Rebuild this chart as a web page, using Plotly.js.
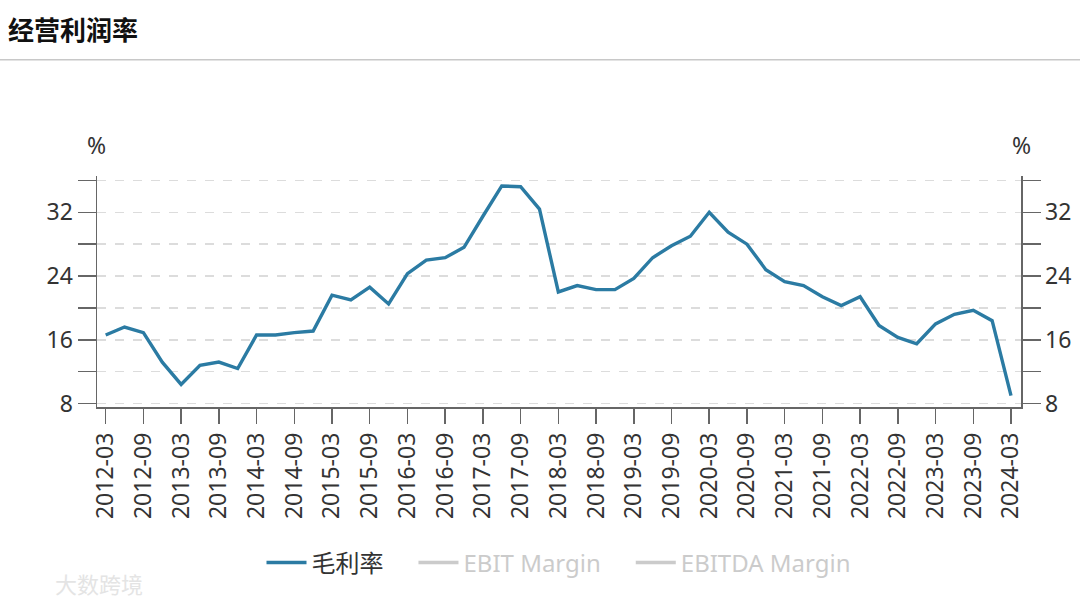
<!DOCTYPE html>
<html>
<head>
<meta charset="utf-8">
<script src="https://cdn.plot.ly/plotly-3.0.1.min.js"></script>
<style>html,body{margin:0;padding:0;background:#fff;}#chart{width:1080px;height:603px;}</style>
</head>
<body>
<div id="chart"></div>
<script>
// Quarter-end categories
const quarters = [
  "2012-03","2012-06","2012-09","2012-12",
  "2013-03","2013-06","2013-09","2013-12",
  "2014-03","2014-06","2014-09","2014-12",
  "2015-03","2015-06","2015-09","2015-12",
  "2016-03","2016-06","2016-09","2016-12",
  "2017-03","2017-06","2017-09","2017-12",
  "2018-03","2018-06","2018-09","2018-12",
  "2019-03","2019-06","2019-09","2019-12",
  "2020-03","2020-06","2020-09","2020-12",
  "2021-03","2021-06","2021-09","2021-12",
  "2022-03","2022-06","2022-09","2022-12",
  "2023-03","2023-06","2023-09","2023-12",
  "2024-03"
];
// 毛利率 (%)
const grossMargin = [
  16.6, 17.6, 16.9, 13.2,
  10.4, 12.8, 13.2, 12.4,
  16.6, 16.6, 16.9, 17.1,
  21.6, 21.0, 22.6, 20.5,
  24.3, 26.0, 26.3, 27.6,
  31.5, 35.3, 35.2, 32.4,
  22.0, 22.8, 22.3, 22.3,
  23.7, 26.3, 27.8, 29.0,
  32.0, 29.5, 28.0, 24.8,
  23.3, 22.8, 21.4, 20.3,
  21.4, 17.8, 16.3, 15.5,
  18.0, 19.2, 19.7, 18.4,
  9.0
];
// Hidden series (toggled off in the legend, no values shown)
const ebitMargin = [null];
const ebitdaMargin = [null];

const xTickVals = quarters.filter((q, i) => i % 2 === 0);
const yTickVals = [8, 12, 16, 20, 24, 28, 32, 36];
const yTickText = ["8", "", "16", "", "24", "", "32", ""];

const FONT = "'Noto Sans', 'Noto Sans CJK SC', sans-serif";
const lineColor = "#2b7ba3";
const GAP = "\u00a0\u00a0\u00a0\u00a0";

const traces = [
  {
    x: quarters, y: grossMargin, type: "scatter", mode: "lines",
    name: "毛利率" + GAP, line: {color: lineColor, width: 3.4}, yaxis: "y"
  },
  {
    x: quarters.slice(0, ebitMargin.length), y: ebitMargin, type: "scatter", mode: "lines",
    name: '<span style="color:#999">EBIT Margin' + GAP + '</span>', visible: "legendonly",
    line: {color: "#999", width: 3.4}
  },
  {
    x: quarters.slice(0, ebitdaMargin.length), y: ebitdaMargin, type: "scatter", mode: "lines",
    name: '<span style="color:#999">EBITDA Margin</span>', visible: "legendonly",
    line: {color: "#999", width: 3.4}
  },
  {
    x: quarters, y: grossMargin, type: "scatter", mode: "lines",
    yaxis: "y2", showlegend: false, hoverinfo: "skip", opacity: 0,
    line: {color: lineColor, width: 0}
  }
];

const yRange = [7.57, 36.55];
const axisCommon = {
  range: yRange,
  tickvals: yTickVals,
  ticktext: yTickText,
  ticks: "outside",
  ticklen: 18,
  tickwidth: 1.5,
  tickcolor: "#666",
  showline: true,
  linecolor: "#666",
  linewidth: 1.5,
  zeroline: false,
  tickfont: {family: FONT, size: 23, color: "#333"}
};

const layout = {
  width: 1080, height: 603,
  paper_bgcolor: "#fff", plot_bgcolor: "#fff",
  margin: {l: 97, r: 59, t: 176, b: 196},
  font: {family: FONT, color: "#333"},
  title: {
    text: "<b>经营利润率</b>",
    font: {family: "'Noto Sans CJK SC', sans-serif", size: 26, color: "#111"},
    x: 8 / 1080, xref: "container", xanchor: "left",
    y: 1 - 31 / 603, yref: "container", yanchor: "middle"
  },
  showlegend: true,
  legend: {
    orientation: "h", x: 0.5, xanchor: "center", y: -0.675, yanchor: "middle",
    font: {family: FONT, size: 24, color: "#333"},
    itemwidth: 40,
    itemclick: false, itemdoubleclick: false
  },
  xaxis: {
    type: "category",
    range: [-0.46, 48.53],
    tickvals: xTickVals,
    ticktext: xTickVals,
    tickangle: -90,
    ticks: "outside",
    ticklen: 15,
    tickwidth: 1.5,
    tickcolor: "#666",
    showline: true,
    linecolor: "#666",
    linewidth: 1.5,
    showgrid: false,
    zeroline: false,
    tickfont: {family: FONT, size: 23, color: "#333"}
  },
  yaxis: Object.assign({}, axisCommon, {
    side: "left",
    showgrid: true,
    gridcolor: "#dcdcdc",
    griddash: "dash",
    gridwidth: 1.5
  }),
  yaxis2: Object.assign({}, axisCommon, {
    side: "right",
    overlaying: "y",
    showgrid: false
  }),
  shapes: [
    {type: "line", xref: "paper", yref: "paper",
     x0: -97 / 924, x1: (1080 - 97) / 924, y0: 1.503, y1: 1.503,
     line: {color: "#c8c8c8", width: 1.5}}
  ],
  annotations: [
    {text: "%", xref: "paper", yref: "paper", x: -0.001, y: 1.134,
     xanchor: "center", yanchor: "middle", showarrow: false,
     font: {family: FONT, size: 23, color: "#333"}},
    {text: "%", xref: "paper", yref: "paper", x: 1.0, y: 1.134,
     xanchor: "center", yanchor: "middle", showarrow: false,
     font: {family: FONT, size: 23, color: "#333"}},
    {text: "大数跨境", xref: "paper", yref: "paper", x: -0.048, y: -0.76,
     xanchor: "left", yanchor: "middle", showarrow: false,
     font: {family: "'Noto Sans CJK SC', sans-serif", size: 22, color: "#e4e4e4"}}
  ]
};

Plotly.newPlot("chart", traces, layout, {displayModeBar: false, staticPlot: true});
</script>
</body>
</html>
